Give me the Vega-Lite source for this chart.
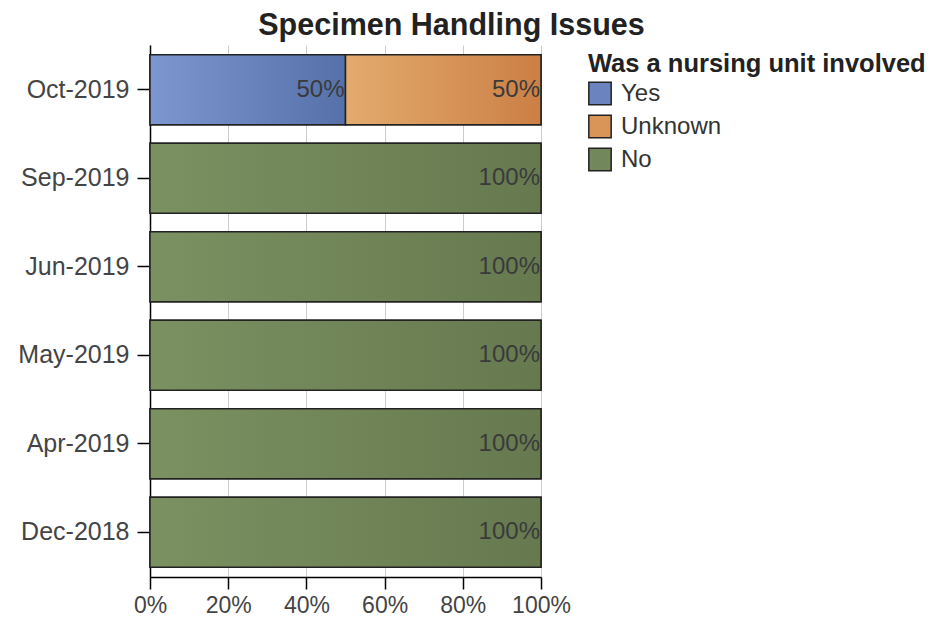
{
  "$schema": "https://vega.github.io/schema/vega-lite/v6.json",
  "width": 391,
  "height": 532,
  "autosize": "none",
  "padding": {"left": 150, "top": 45, "right": 391, "bottom": 54},
  "background": "white",
  "title": {
    "text": "Specimen Handling Issues",
    "anchor": "middle",
    "dx": 106,
    "offset": 4,
    "font": "Liberation Sans",
    "fontSize": 30.5,
    "fontWeight": "bold",
    "color": "#222"
  },
  "config": {
    "view": {"stroke": null},
    "font": "Liberation Sans"
  },
  "data": {
    "values": [
      {"month": "Oct-2019", "unit": "Yes", "pct": 0.5},
      {"month": "Oct-2019", "unit": "Unknown", "pct": 0.5},
      {"month": "Sep-2019", "unit": "No", "pct": 1.0},
      {"month": "Jun-2019", "unit": "No", "pct": 1.0},
      {"month": "May-2019", "unit": "No", "pct": 1.0},
      {"month": "Apr-2019", "unit": "No", "pct": 1.0},
      {"month": "Dec-2018", "unit": "No", "pct": 1.0}
    ]
  },
  "transform": [
    {"stack": "pct", "groupby": ["month"], "sort": [{"field": "unit", "order": "descending"}], "as": ["x0", "x1"]}
  ],
  "encoding": {
    "y": {
      "field": "month",
      "type": "nominal",
      "sort": ["Oct-2019", "Sep-2019", "Jun-2019", "May-2019", "Apr-2019", "Dec-2018"],
      "scale": {"paddingInner": 0.21, "paddingOuter": 0.11},
      "axis": {
        "title": null,
        "domainColor": "#000",
        "domainWidth": 1.5,
        "tickColor": "#000",
        "tickWidth": 1.5,
        "tickSize": 13,
        "labelFontSize": 25,
        "labelColor": "#444",
        "labelPadding": 8,
        "labelLimit": 300,
        "grid": false
      }
    }
  },
  "layer": [
    {
      "mark": {"type": "bar", "stroke": "#222", "strokeWidth": 1.5},
      "encoding": {
        "x": {
          "field": "x0",
          "type": "quantitative",
          "scale": {"domain": [0, 1], "nice": false},
          "axis": {
            "title": null,
            "format": ".0%",
            "values": [0, 0.2, 0.4, 0.6, 0.8, 1],
            "grid": true,
            "gridColor": "#cccccc",
            "gridWidth": 1,
            "domainColor": "#000",
            "domainWidth": 1.5,
            "tickColor": "#000",
            "tickWidth": 1.5,
            "tickSize": 12,
            "labelFontSize": 23,
            "labelColor": "#444",
            "labelPadding": 5,
            "labelFlush": false
          }
        },
        "x2": {"field": "x1"},
        "color": {
          "field": "unit",
          "type": "nominal",
          "scale": {"domain": ["Yes", "Unknown", "No"], "range": ["#6b84bf", "#d99558", "#72885a"]},
          "legend": {
            "title": "Was a nursing unit involved",
            "orient": "none",
            "legendX": 438,
            "legendY": 7,
            "titleFontSize": 25.5,
            "titleFontWeight": "bold",
            "titleColor": "#222",
            "titleLimit": 500,
            "titlePadding": 4,
            "labelFontSize": 24,
            "labelColor": "#333",
            "labelOffset": 9,
            "labelLimit": 300,
            "symbolType": "square",
            "symbolSize": 500,
            "symbolStrokeColor": "#222",
            "symbolStrokeWidth": 1.5,
            "symbolOpacity": 1,
            "rowPadding": 3
          }
        }
      }
    },
    {
      "transform": [{"filter": "datum.unit === 'Yes'"}],
      "mark": {
        "type": "bar",
        "stroke": "#222",
        "strokeWidth": 1.5,
        "fill": {"gradient": "linear", "x1": 0, "y1": 0, "x2": 1, "y2": 0,
          "stops": [{"offset": 0, "color": "#7d96d0"}, {"offset": 1, "color": "#5671a9"}]}
      },
      "encoding": {"x": {"field": "x0", "type": "quantitative"}, "x2": {"field": "x1"}}
    },
    {
      "transform": [{"filter": "datum.unit === 'Unknown'"}],
      "mark": {
        "type": "bar",
        "stroke": "#222",
        "strokeWidth": 1.5,
        "fill": {"gradient": "linear", "x1": 0, "y1": 0, "x2": 1, "y2": 0,
          "stops": [{"offset": 0, "color": "#e3ab6d"}, {"offset": 1, "color": "#cb7f45"}]}
      },
      "encoding": {"x": {"field": "x0", "type": "quantitative"}, "x2": {"field": "x1"}}
    },
    {
      "transform": [{"filter": "datum.unit === 'No'"}],
      "mark": {
        "type": "bar",
        "stroke": "#222",
        "strokeWidth": 1.5,
        "fill": {"gradient": "linear", "x1": 0, "y1": 0, "x2": 1, "y2": 0,
          "stops": [{"offset": 0, "color": "#7b9161"}, {"offset": 1, "color": "#66794f"}]}
      },
      "encoding": {"x": {"field": "x0", "type": "quantitative"}, "x2": {"field": "x1"}}
    },
    {
      "mark": {"type": "text", "align": "right", "baseline": "middle", "dx": -1, "fontSize": 24, "color": "#3a3a3a"},
      "encoding": {
        "x": {"field": "x1", "type": "quantitative"},
        "text": {"field": "pct", "type": "quantitative", "format": ".0%"}
      }
    }
  ]
}
